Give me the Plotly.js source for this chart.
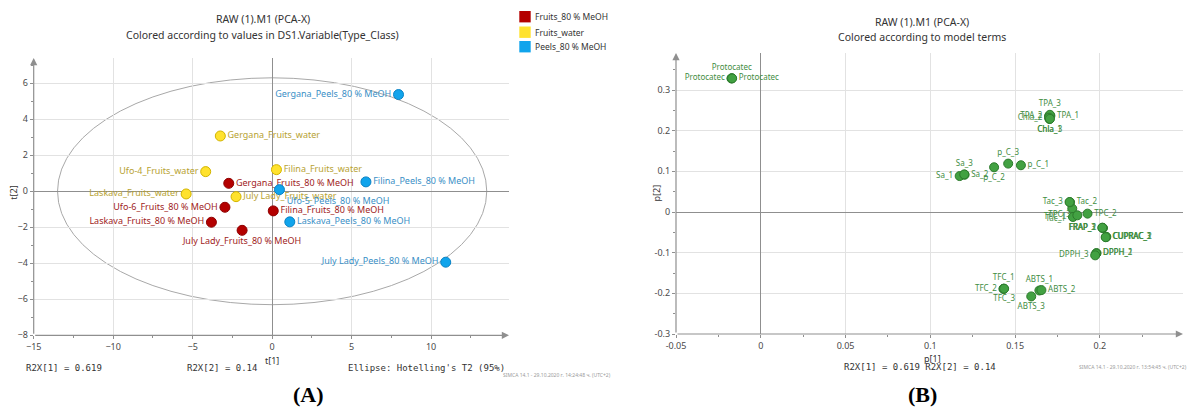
<!DOCTYPE html>
<html><head><meta charset="utf-8">
<script src="https://cdn.plot.ly/plotly-3.0.1.min.js"></script>
<style>html,body{margin:0;padding:0;background:#fff}</style>
</head><body><div id="chart" style="width:1192px;height:414px"></div>
<script>
// ---------- Panel A: scores t[1] / t[2] ----------
const classNames = ['Fruits_80 % MeOH', 'Fruits_water', 'Peels_80 % MeOH'];
const scoreNames = [
  'Gergana_Fruits_80 % MeOH', 'Ufo-6_Fruits_80 % MeOH', 'Filina_Fruits_80 % MeOH', 'Laskava_Fruits_80 % MeOH', 'July Lady_Fruits_80 % MeOH',
  'Gergana_Fruits_water', 'Ufo-4_Fruits_water', 'Filina_Fruits_water', 'Laskava_Fruits_water', 'July Lady_Fruits_water',
  'Gergana_Peels_80 % MeOH', 'Filina_Peels_80 % MeOH', 'Ufo-5_Peels_80 % MeOH', 'Laskava_Peels_80 % MeOH', 'July Lady_Peels_80 % MeOH'
];
const scoreClass = [
  'Fruits_80 % MeOH', 'Fruits_80 % MeOH', 'Fruits_80 % MeOH', 'Fruits_80 % MeOH', 'Fruits_80 % MeOH',
  'Fruits_water', 'Fruits_water', 'Fruits_water', 'Fruits_water', 'Fruits_water',
  'Peels_80 % MeOH', 'Peels_80 % MeOH', 'Peels_80 % MeOH', 'Peels_80 % MeOH', 'Peels_80 % MeOH'
];
const scoreT1 = [-2.73, -2.97, 0.07, -3.82, -1.89, -3.26, -4.18, 0.27, -5.41, -2.27, 7.95, 5.90, 0.46, 1.11, 10.92];
const scoreT2 = [0.44, -0.89, -1.09, -1.72, -2.17, 3.07, 1.09, 1.20, -0.15, -0.30, 5.37, 0.52, 0.09, -1.70, -3.94];
const t1Ticks = [-15, -10, -5, 0, 5, 10];
const t2Ticks = [-8, -6, -4, -2, 0, 2, 4, 6];
const ellipseT1 = 13.5, ellipseT2 = 6.3;   // Hotelling's T2 (95%) semi-axes

// ---------- Panel B: loadings p[1] / p[2] ----------
const loadingLabels = ['Protocatec', 'Protocatec', 'Protocatec', 'TPA_1', 'TPA_2', 'TPA_3', 'Chla_1', 'Chla_2', 'Chla_3',
  'Sa_1', 'Sa_2', 'Sa_3', 'p_C_1', 'p_C_2', 'p_C_3', 'Tac_1', 'Tac_2', 'Tac_3', 'TPC_1', 'TPC_2', 'TPC_3',
  'FRAP_1', 'FRAP_2', 'FRAP_3', 'CUPRAC_1', 'CUPRAC_2', 'CUPRAC_3', 'DPPH_1', 'DPPH_2', 'DPPH_3',
  'TFC_1', 'TFC_2', 'TFC_3', 'ABTS_1', 'ABTS_2', 'ABTS_3'];
const loadingP1 = [-0.0171, -0.0173, -0.0169, 0.1708, 0.1700, 0.1705, 0.1703, 0.1700, 0.1705,
  0.1173, 0.1202, 0.1200, 0.1534, 0.1376, 0.1459, 0.1837, 0.1824, 0.1821, 0.1841, 0.1927, 0.1867,
  0.2016, 0.2018, 0.2014, 0.2036, 0.2038, 0.2034, 0.1980, 0.1978, 0.1972,
  0.1433, 0.1431, 0.1435, 0.1643, 0.1655, 0.1595];
const loadingP2 = [0.3290, 0.3284, 0.3286, 0.2365, 0.2360, 0.2390, 0.2288, 0.2320, 0.2290,
  0.0884, 0.0917, 0.0925, 0.1150, 0.1100, 0.1190, 0.0084, 0.0240, 0.0246, -0.0123, -0.0040, -0.0081,
  -0.0390, -0.0395, -0.0385, -0.0616, -0.0610, -0.0620, -0.1010, -0.1020, -0.1066,
  -0.1887, -0.1890, -0.1885, -0.1930, -0.1920, -0.2076];
const p1Ticks = [-0.05, 0, 0.05, 0.1, 0.15, 0.2];
const p1TickText = ['-0.05', '0', '0.05', '0.1', '0.15', '0.2'];
const p2Ticks = [-0.3, -0.2, -0.1, 0, 0.1, 0.2, 0.3];
const p2TickText = ['-0.3', '-0.2', '-0.1', '0', '0.1', '0.2', '0.3'];

// ---------- styles ----------
const W = 1192, H = 414;
const FONT = 'Noto Sans, Open Sans, sans-serif';
const MONO = 'DejaVu Sans Mono, Liberation Mono, monospace';
const classColor = ['#b40000', '#ffe22e', '#10a4ec'];
const classLine = ['#8e0000', '#d2b400', '#0a82c4'];
const classText = ['#a01c1c', '#b7a232', '#3a8fc6'];
const scoreLabelPos = ['middle right', 'middle left', 'middle right', 'middle left', 'bottom center',
  'middle right', 'middle left', 'middle right', 'middle left', 'middle right',
  'middle left', 'middle right', 'bottom right', 'middle right', 'middle left'];
const loadingLabelPos = ['top center', 'middle left', 'middle right', 'middle right', 'middle left', 'top center',
  'bottom center', 'middle left', 'bottom center', 'middle left', 'middle right', 'top center',
  'middle right', 'bottom center', 'top center', 'bottom left', 'middle right', 'middle left',
  'middle left', 'middle right', 'middle left', 'middle left', 'middle left', 'middle left',
  'middle right', 'middle right', 'middle right', 'middle right', 'middle right', 'middle left',
  'top center', 'middle left', 'bottom center', 'top center', 'middle right', 'bottom center'];

const px = v => v / W, py = v => 1 - v / H;

const traces = classNames.map((c, k) => {
  const idx = scoreClass.map((s, i) => s === c ? i : -1).filter(i => i >= 0);
  return {
    type: 'scatter', mode: 'markers+text', xaxis: 'x', yaxis: 'y', name: c, showlegend: false,
    x: idx.map(i => scoreT1[i]), y: idx.map(i => scoreT2[i]),
    text: idx.map(i => scoreNames[i]), textposition: idx.map(i => scoreLabelPos[i]),
    textfont: {family: FONT, size: 9, color: classText[k]},
    marker: {size: 10, color: classColor[k], line: {color: classLine[k], width: 1}},
    cliponaxis: false, hoverinfo: 'text'
  };
});
traces.push({
  type: 'scatter', mode: 'markers+text', xaxis: 'x2', yaxis: 'y2', name: 'Loadings', showlegend: false,
  x: loadingP1, y: loadingP2, text: loadingLabels, textposition: loadingLabelPos,
  textfont: {family: FONT, size: 8, color: '#3f8d3f'},
  marker: {size: 9, color: '#42a142', line: {color: '#2c7a2c', width: 1}},
  cliponaxis: false, hoverinfo: 'text'
});

const gridC = '#e2e2e2', zeroC = '#8f8f8f', axC = '#8f8f8f';
const tickFont = {family: FONT, size: 9, color: '#4a4a4a'};
function axis(extra) {
  return Object.assign({
    ticks: 'outside', ticklen: 3, tickcolor: axC, tickwidth: 1, showgrid: true, gridcolor: gridC, gridwidth: 1,
    zeroline: true, zerolinecolor: zeroC, zerolinewidth: 1, showline: false, tickfont: tickFont,
    fixedrange: true, automargin: false
  }, extra);
}

const layout = {
  width: W, height: H, margin: {l: 0, r: 0, t: 0, b: 0},
  paper_bgcolor: '#fff', plot_bgcolor: 'rgba(0,0,0,0)', showlegend: false,
  font: {family: FONT, color: '#333'},
  xaxis: axis({domain: [px(33.7), px(509)], range: [-15, 14.9], anchor: 'y', tickmode: 'array', tickvals: t1Ticks,
    minor: {dtick: 2.5, tick0: 0, ticks: 'outside', ticklen: 2, tickcolor: axC, showgrid: false}}),
  yaxis: axis({domain: [py(335.3), py(58)], range: [-8, 7.4], anchor: 'x', tickmode: 'array', tickvals: t2Ticks,
    minor: {dtick: 1, tick0: 0, ticks: 'outside', ticklen: 2, tickcolor: axC, showgrid: false}}),
  xaxis2: axis({domain: [px(676), px(1183)], range: [-0.05, 0.249], anchor: 'y2', tickmode: 'array',
    tickvals: p1Ticks, ticktext: p1TickText,
    minor: {dtick: 0.025, tick0: 0, ticks: 'outside', ticklen: 2, tickcolor: axC, showgrid: false}}),
  yaxis2: axis({domain: [py(334), py(53)], range: [-0.3, 0.391], anchor: 'x2', tickmode: 'array',
    tickvals: p2Ticks, ticktext: p2TickText,
    minor: {dtick: 0.05, tick0: 0, ticks: 'outside', ticklen: 2, tickcolor: axC, showgrid: false}}),
  shapes: [
    {type: 'circle', xref: 'x', yref: 'y', x0: -ellipseT1, x1: ellipseT1, y0: -ellipseT2, y1: ellipseT2,
      line: {color: '#a8a8a8', width: 1}, layer: 'below'}
  ],
  annotations: []
};

// axis arrows
function arrow(xr, yr, x0, y0, x1, y1) {
  return {xref: xr, yref: yr, axref: xr, ayref: yr, x: x1, y: y1, ax: x0, ay: y0, text: '', showarrow: true,
    arrowhead: 2, arrowsize: 1.2, arrowwidth: 1.2, arrowcolor: axC, standoff: 0, startstandoff: 0};
}
layout.annotations.push(arrow('x', 'y', -15, -8, 14.9, -8));
layout.annotations.push(arrow('x', 'y', -15, -8, -15, 7.4));
layout.annotations.push(arrow('x2', 'y2', -0.05, -0.3, 0.249, -0.3));
layout.annotations.push(arrow('x2', 'y2', -0.05, -0.3, -0.05, 0.391));

// legend (panel A)
const legendRows = [16.7, 32.2, 46.7];
classNames.forEach((c, k) => {
  layout.shapes.push({type: 'rect', xref: 'paper', yref: 'paper', x0: px(519.3), x1: px(530.7),
    y0: py(legendRows[k] + 5.7), y1: py(legendRows[k] - 5.7), fillcolor: classColor[k], line: {width: 0}});
  layout.annotations.push({xref: 'paper', yref: 'paper', x: px(533), y: py(legendRows[k]), xanchor: 'left', yanchor: 'middle',
    text: c, showarrow: false, font: {family: FONT, size: 8.5, color: '#333'}});
});

function txt(t, x, y, opts) {
  layout.annotations.push(Object.assign({xref: 'paper', yref: 'paper', x: px(x), y: py(y), text: t, showarrow: false,
    xanchor: 'center', yanchor: 'middle', font: {family: FONT, size: 10, color: '#333'}}, opts || {}));
}
// titles
txt('RAW (1).M1 (PCA-X)', 262.5, 19.3, {font: {family: FONT, size: 10.5, color: '#333'}});
txt('Colored according to values in DS1.Variable(Type_Class)', 262.5, 35, {font: {family: FONT, size: 10.5, color: '#333'}});
txt('RAW (1).M1 (PCA-X)', 921.5, 22.3, {font: {family: FONT, size: 10.5, color: '#333'}});
txt('Colored according to model terms', 921.5, 36.7, {font: {family: FONT, size: 10.5, color: '#333'}});
// axis titles
txt('t[1]', 272, 360, {font: {family: FONT, size: 9, color: '#333'}});
txt('t[2]', 14, 192.7, {textangle: -90, font: {family: FONT, size: 9, color: '#333'}});
txt('p[1]', 932, 358, {font: {family: FONT, size: 9, color: '#333'}});
txt('p[2]', 655.5, 193, {textangle: -90, font: {family: FONT, size: 9, color: '#333'}});
// footnotes
const mono = {family: MONO, size: 9, color: '#333'};
txt('R2X[1] = 0.619', 23.7, 368, {xanchor: 'left', font: mono});
txt('R2X[2] = 0.14', 184.8, 368, {xanchor: 'left', font: mono});
txt("Ellipse: Hotelling's T2 (95%)", 346.3, 368, {xanchor: 'left', font: mono});
txt('SIMCA 14.1 - 29.10.2020 г. 14:24:48 ч. (UTC+2)', 501, 374.5, {xanchor: 'left', font: {family: FONT, size: 5, color: '#9a9a9a'}});
txt('R2X[1] = 0.619 R2X[2] = 0.14', 841.9, 367.3, {xanchor: 'left', font: mono});
txt('SIMCA 14.1 - 29.10.2020 г. 13:54:45 ч. (UTC+2)', 1189, 367, {xanchor: 'right', font: {family: FONT, size: 5, color: '#9a9a9a'}});
// panel letters
const serifB = {family: 'Liberation Serif, DejaVu Serif, serif', size: 22, color: '#000'};
txt('<b>(A)</b>', 308, 394, {font: serifB});
txt('<b>(B)</b>', 922.6, 394, {font: serifB});

Plotly.newPlot('chart', traces, layout, {displayModeBar: false, staticPlot: true});
</script></body></html>
